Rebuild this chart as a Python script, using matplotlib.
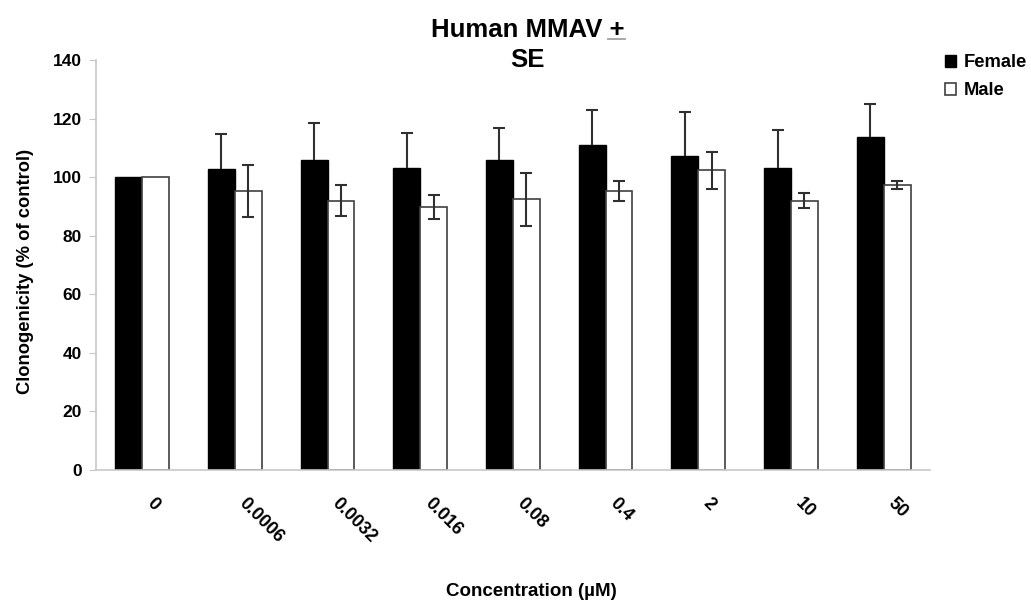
import matplotlib
matplotlib.use("Agg")
import matplotlib.pyplot as plt
import matplotlib.transforms as mtransforms
import numpy as np

plt.rcParams['font.family'] = ['Liberation Sans', 'DejaVu Sans']
plt.rcParams['font.weight'] = 'bold'

# concentrations (uM) and clonogenicity as % of control
conc = ["0", "0.0006", "0.0032", "0.016", "0.08", "0.4", "2", "10", "50"]
female = [100, 102.8, 105.9, 103.0, 106.0, 111.0, 107.3, 103.0, 113.7]
female_se = [0, 12.0, 12.6, 12.0, 10.8, 12.0, 14.9, 13.0, 11.3]
male = [100, 95.2, 92.0, 89.8, 92.5, 95.3, 102.4, 92.0, 97.3]
male_se = [0, 8.9, 5.4, 4.2, 9.0, 3.3, 6.3, 2.6, 1.4]

fig = plt.figure(figsize=(10.31, 6.01), dpi=100)
ax = fig.add_axes([0.093, 0.218, 0.809, 0.682])

x = np.arange(len(conc))
w = 0.29
fem = np.array(female)
fse = np.array(female_se)
mal = np.array(male)
mse = np.array(male_se)

ax.bar(x - w / 2, fem, w, color="black", edgecolor="black", linewidth=1, label="Female", zorder=2)
ax.bar(x + w / 2, mal, w, color="white", edgecolor="#404040", linewidth=1.2, label="Male", zorder=2)

# error bars only where there is an SE (control group has none)
has_f = fse > 0
has_m = mse > 0
eb = ax.errorbar(x[has_f] - w / 2, fem[has_f], yerr=[np.zeros(has_f.sum()), fse[has_f]], fmt="none",
                 ecolor="#303030", elinewidth=1.5, capsize=4.3, capthick=1.5, zorder=3)
eb[1][0].set_visible(False)  # female bars only show the upper half
ax.errorbar(x[has_m] + w / 2, mal[has_m], yerr=mse[has_m], fmt="none",
            ecolor="#303030", elinewidth=1.5, capsize=4.3, capthick=1.5, zorder=3)

ax.set_xlim(-0.5, len(conc) - 0.5)
ax.set_ylim(0, 140)
ax.set_yticks(np.arange(0, 141, 20))
ax.set_xticks(x)
ax.set_xticklabels(conc, rotation=-45, ha="left", va="top", rotation_mode="anchor")

for s in ["top", "right"]:
    ax.spines[s].set_visible(False)
for s in ["left", "bottom"]:
    ax.spines[s].set_color("#c8c8c8")
    ax.spines[s].set_linewidth(1.2)
ax.tick_params(axis="y", length=5, color="#c8c8c8", labelsize=12.5, pad=5)
ax.tick_params(axis="x", length=0, labelsize=13, pad=18)

# nudge the rotated tick labels to the right (after tick_params, which resets transforms)
shift = mtransforms.ScaledTranslation(0.13, 0, fig.dpi_scale_trans)
for lbl in ax.get_xticklabels():
    lbl.set_transform(lbl.get_transform() + shift)

ax.set_ylabel("Clonogenicity (% of control)", fontsize=13.2, fontweight="bold")
ax.yaxis.set_label_coords(-0.074, 0.485)
fig.text(0.515, 0.016, "Concentration (\u00b5M)", ha="center", va="center",
         fontsize=13.5, fontweight="bold")

# title: the plus sign gets an underline to read as plus/minus
t1 = fig.text(0.512, 0.9384, "Human MMAV +", ha="center", va="baseline", fontsize=18.5, fontweight="bold")
fig.text(0.512, 0.8885, "SE", ha="center", va="baseline", fontsize=18.5, fontweight="bold")
fig.canvas.draw()
bb = t1.get_window_extent()
inv = fig.transFigure.inverted()
ybase = fig.transFigure.transform((0, 0.9384))[1] - 1.5
(ux0, uy), (ux1, _) = inv.transform([(bb.x1 - 17, ybase), (bb.x1, ybase)])
fig.add_artist(plt.Line2D([ux0, ux1], [uy, uy], transform=fig.transFigure,
                          color="#a0a0a0", linewidth=1.3))

fig.legend(loc="upper left", bbox_to_anchor=(0.909, 0.922), frameon=False, fontsize=13.2,
           handlelength=0.65, handleheight=0.65, handletextpad=0.4, labelspacing=0.6, borderaxespad=0)

fig.savefig("out.png", dpi=100, facecolor="white")
